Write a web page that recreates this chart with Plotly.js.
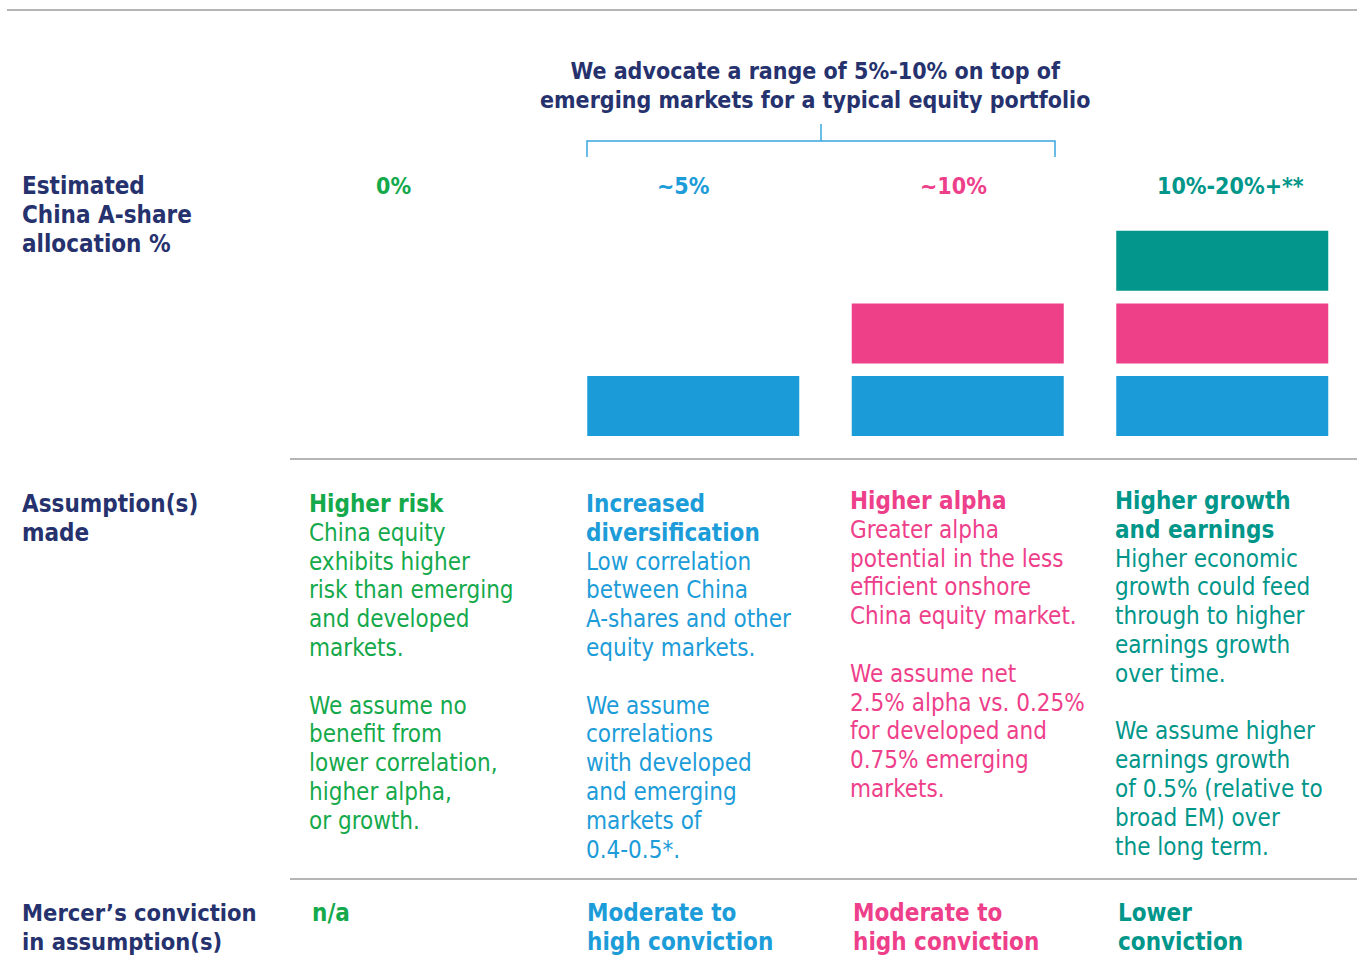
<!DOCTYPE html>
<html>
<head>
<meta charset="utf-8">
<script src="https://cdn.plot.ly/plotly-3.0.1.min.js"></script>
<style>html,body{margin:0;padding:0;background:#fff;}#chart{width:1357px;height:960px;}</style>
</head>
<body>
<div id="chart"></div>
<script>
// ---- data ----
const categories = ["0%", "~5%", "~10%", "10%-20%+**"];
const blueLayer = [0, 1, 1, 1];   // first block of allocation
const pinkLayer = [0, 0, 1, 1];   // second block
const tealLayer = [0, 0, 0, 1];   // third block
const layerColors = ["#1b9cd8", "#ee4089", "#02968c"];
const columnColors = ["#14a94b", "#1c9cd8", "#ee3f8b", "#00968a"];
const navy = "#26326e";

const titleLines = ["We advocate a range of 5%-10% on top of", "emerging markets for a typical equity portfolio"];
const rowLabels = [
  ["Estimated", "China A-share", "allocation %"],
  ["Assumption(s)", "made"],
  ["Mercer’s conviction", "in assumption(s)"]
];
const headings = [
  ["Higher risk"],
  ["Increased", "diversification"],
  ["Higher alpha"],
  ["Higher growth", "and earnings"]
];
const bodies = [
  ["China equity", "exhibits higher", "risk than emerging", "and developed", "markets.", "", "We assume no", "benefit from", "lower correlation,", "higher alpha,", "or growth."],
  ["Low correlation", "between China", "A-shares and other", "equity markets.", "", "We assume", "correlations", "with developed", "and emerging", "markets of", "0.4-0.5*."],
  ["Greater alpha", "potential in the less", "efficient onshore", "China equity market.", "", "We assume net", "2.5% alpha vs. 0.25%", "for developed and", "0.75% emerging", "markets."],
  ["Higher economic", "growth could feed", "through to higher", "earnings growth", "over time.", "", "We assume higher", "earnings growth", "of 0.5% (relative to", "broad EM) over", "the long term."]
];
const convictions = [
  ["n/a"],
  ["Moderate to", "high conviction"],
  ["Moderate to", "high conviction"],
  ["Lower", "conviction"]
];

// ---- layout helpers ----
const W = 1357, H = 960;
const FONT = "DejaVu Sans Condensed, Noto Sans, sans-serif";
const FS = 24;
const LINE_PX = 28.8;       // leading of the reference
const px = x => x / W;
const py = y => 1 - y / H;
const annotations = [];
// one annotation per text block; first line visual centre at y0
function addBlock(html, x, y0, color, anchor, size) {
  const left = (anchor || "left") === "left";
  const s = size || FS;
  annotations.push({
    xref: "paper", yref: "paper", x: px(left ? x - 3 : x), y: py(y0 - 15 * s / FS),
    text: html,
    showarrow: false, xanchor: anchor || "left", yanchor: "top",
    font: {family: FONT, size: s, color: color},
    align: left ? "left" : "center"
  });
}
const bold = lines => lines.map(t => t === "" ? " " : "<b>" + t + "</b>");
const plain = lines => lines.map(t => t === "" ? " " : t);

addBlock(bold(titleLines).join("<br>"), 815, 70, navy, "center", 23);
addBlock(bold(rowLabels[0]).join("<br>"), 23, 185, navy);
addBlock(bold(rowLabels[1]).join("<br>"), 23, 503, navy);
addBlock(bold(rowLabels[2]).join("<br>"), 23, 912, navy, "left", 23.5);

const headerX = [393, 683, 953, 1230];
categories.forEach((c, i) => addBlock("<b>" + c + "</b>", headerX[i], 185, columnColors[i], "center", 23));

const textX = [310, 587, 851, 1116];
const textY0 = [503, 503, 500, 500];
headings.forEach((h, i) => {
  addBlock(bold(h).concat(plain(bodies[i])).join("<br>"), textX[i], textY0[i], columnColors[i]);
});
const convX = [313, 588, 854, 1119];
convictions.forEach((c, i) => addBlock(bold(c).join("<br>"), convX[i], 912, columnColors[i]));

// ---- bars ----
const layers = [blueLayer, pinkLayer, tealLayer];
const STEP = 1.21;
const traces = layers.map((vals, k) => ({
  type: "bar",
  x: categories,
  y: vals,
  base: vals.map(() => k * STEP),
  marker: {color: layerColors[k], line: {width: 0}},
  hoverinfo: "skip",
  showlegend: false
}));

// ---- decorative lines ----
const grey = "#b5b5b5";
const bracket = "#3aa7de";
const shapes = [
  {type: "line", xref: "paper", yref: "paper", x0: px(7), x1: px(1357), y0: py(10), y1: py(10), line: {color: grey, width: 2}},
  {type: "line", xref: "paper", yref: "paper", x0: px(290), x1: px(1357), y0: py(459), y1: py(459), line: {color: grey, width: 2}},
  {type: "line", xref: "paper", yref: "paper", x0: px(290), x1: px(1357), y0: py(879), y1: py(879), line: {color: grey, width: 2}},
  {type: "path", xref: "paper", yref: "paper",
   path: `M ${px(587)} ${py(157)} L ${px(587)} ${py(141)} L ${px(1055)} ${py(141)} L ${px(1055)} ${py(157)}`,
   line: {color: bracket, width: 1.5}},
  {type: "line", xref: "paper", yref: "paper", x0: px(821), x1: px(821), y0: py(124), y1: py(141), line: {color: bracket, width: 1.5}}
];

const layout = {
  width: W, height: H,
  margin: {l: 0, r: 0, t: 0, b: 0},
  paper_bgcolor: "#fff", plot_bgcolor: "#fff",
  barmode: "overlay",
  bargap: 0.1985,
  xaxis: {type: "category", domain: [px(296.5), px(1354.5)], visible: false, fixedrange: true},
  yaxis: {range: [0, 3.5], domain: [py(436), py(226)], visible: false, fixedrange: true},
  shapes: shapes,
  annotations: annotations
};

Plotly.newPlot("chart", traces, layout, {displayModeBar: false, staticPlot: true}).then(() => {
  // tighten multi-line leading from Plotly's 1.3em to the reference's 28.8px
  document.querySelectorAll("#chart .annotation-text").forEach(txt => {
    const fs = parseFloat(txt.style.fontSize) || FS;
    txt.querySelectorAll("tspan.line").forEach(t => {
      const dy = parseFloat(t.getAttribute("dy"));
      if (dy) t.setAttribute("dy", (dy / 1.3 * LINE_PX / fs) + "em");
    });
  });
});
</script>
</body>
</html>
